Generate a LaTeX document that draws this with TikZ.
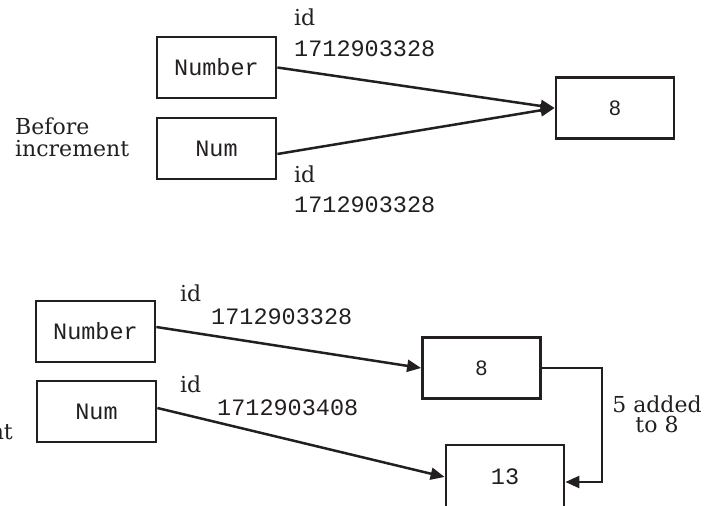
\documentclass[tikz,border=0pt]{standalone}
\usepackage{fontspec}
\setmainfont{DejaVu Serif}
\newfontfamily\monof{Liberation Mono}
\newfontfamily\sansf{Liberation Sans}
\usetikzlibrary{arrows.meta}
\definecolor{ink}{RGB}{35,31,32}
\tikzset{
  membox/.style={draw=ink, line width=2.8pt, minimum width=119pt, minimum height=61pt, inner sep=0pt, font=\monof\fontsize{23.5}{28}\selectfont, text=ink},
  valbox/.style={membox, minimum width=118pt},
  conn/.style={draw=ink, line width=2.5pt, -{Triangle[length=14pt,width=12pt]}},
  lbl/.style={inner sep=0pt, anchor=base west, text=ink, font=\fontsize{22}{22}\selectfont},
  idnum/.style={inner sep=0pt, anchor=base west, text=ink, font=\monof\fontsize{23.5}{28}\selectfont},
  note/.style={inner sep=0pt, text=ink, font=\fontsize{22}{20}\selectfont, align=center}
}
\begin{document}
\begin{tikzpicture}[x=1pt,y=-1pt]
\useasboundingbox (0,0) rectangle (708,505);
\clip (0,0) rectangle (708,505);
% ---------- before increment ----------
\node[membox] (n1) at (216.5,67.5) {Number};
\node[membox] (m1) at (216.5,148.5) {Num};
\node[valbox, font=\sansf\fontsize{21}{25}\selectfont] (v1) at (615,108) {8};
\draw[conn] (n1.east) -- (v1.west);
\draw[conn] ([yshift=-5.5pt]m1.east) -- (v1.west);
\node[lbl] (id1) at (294,26) {id};
\node[idnum] (num1) at (294,57) {1712903328};
\node[lbl] (id2) at (294,182) {id};
\node[idnum] (num2) at (294,212) {1712903328};
\node[lbl] (bef1) at (15,135) {Before};
\node[lbl] (bef2) at (15,157) {increment};
% ---------- after increment ----------
\node[membox] (n2) at (95.5,331.5) {Number};
\node[membox] (m2) at (96.5,411.5) {Num};
\node[valbox, font=\sansf\fontsize{21}{25}\selectfont] (v2) at (481.5,368) {8};
\node[valbox, minimum height=64pt] (v3) at (505,477) {13};
\draw[conn] ([yshift=4.5pt]n2.east) -- (v2.west);
\draw[conn] ([yshift=3.5pt]m2.east) -- (v3.west);
\coordinate (c1) at (602,368);
\coordinate (c2) at (602,482);
\draw[conn] (v2.east) -- (c1) -- (c2) -- (v3.east |- c2);
\node[lbl] (id3) at (180,301) {id};
\node[idnum] (num3) at (211,324) {1712903328};
\node[lbl] (id4) at (180,392) {id};
\node[idnum] (num4) at (217,415) {1712903408};
\node[note] (add) at (657,414) {5 added\\to 8};
\node[lbl, anchor=base east] (aft) at (13,439) {increment};
\end{tikzpicture}
\end{document}
